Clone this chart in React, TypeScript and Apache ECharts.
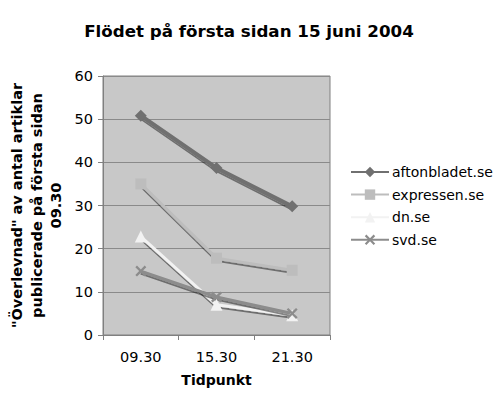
import React, { useEffect, useRef } from "react";
import * as echarts from "echarts";

const categories = ["09.30", "15.30", "21.30"];
const aftonbladet = [50.8, 38.7, 29.8];
const expressen = [35, 17.8, 15];
const dn = [22.8, 7, 4.6];
const svd = [14.8, 8.8, 5];
const seriesNames = ["aftonbladet.se", "expressen.se", "dn.se", "svd.se"];
const yTicks = [0, 10, 20, 30, 40, 50, 60];

const FONT = "DejaVu Sans";
const X_PATH = "path://M0,1.5L1.5,0L5,3.5L8.5,0L10,1.5L6.5,5L10,8.5L8.5,10L5,6.5L1.5,10L0,8.5L3.5,5Z";

export default function App() {
  const ref = useRef<HTMLDivElement>(null);
  useEffect(() => {
    const chart = echarts.init(ref.current!, null, { renderer: "svg" });
    const mk = (name: string, data: number[], color: string, symbol: string, size: number, width: number) => ({
      name,
      type: "line",
      data,
      symbol,
      symbolSize: size,
      itemStyle: { color },
      lineStyle: {
        color,
        width,
        shadowColor: "rgba(0,0,0,0.45)",
        shadowOffsetY: 2,
        shadowOffsetX: 0,
        shadowBlur: 0,
      },
      emphasis: { disabled: true },
    });
    chart.setOption({
      animation: false,
      backgroundColor: "#ffffff",
      title: {
        text: "Flödet på första sidan 15 juni 2004",
        left: 244,
        textAlign: "center",
        top: 17,
        textStyle: { fontFamily: FONT, fontSize: 16.7, fontWeight: "bold", color: "#000" },
      },
      grid: {
        left: 103,
        right: 163,
        top: 76,
        bottom: 65,
        show: true,
        backgroundColor: "#c8c8c8",
        borderColor: "#808080",
        borderWidth: 1,
      },
      legend: {
        orient: "vertical",
        left: 345,
        top: 160,
        itemWidth: 38,
        itemHeight: 13,
        itemGap: 8.6,
        data: seriesNames,
        textStyle: { fontFamily: FONT, fontSize: 14, color: "#000", padding: [0, 0, 0, -2] },
      },
      xAxis: {
        type: "category",
        data: categories,
        boundaryGap: true,
        name: "Tidpunkt",
        nameLocation: "middle",
        nameGap: 38,
        nameTextStyle: { fontFamily: FONT, fontSize: 14, fontWeight: "bold", color: "#000" },
        axisLine: { lineStyle: { color: "#808080" } },
        axisTick: { show: true, alignWithLabel: false, length: 5, lineStyle: { color: "#808080" } },
        axisLabel: { fontFamily: FONT, fontSize: 14.5, color: "#000", margin: 14 },
        splitLine: { show: false },
      },
      yAxis: {
        type: "value",
        min: 0,
        max: 60,
        interval: 10,
        name: '"Överlevnad" av antal artiklar\npublicerade på första sidan\n09.30',
        nameLocation: "middle",
        nameGap: 37,
        nameRotate: 90,
        nameTextStyle: { fontFamily: FONT, fontSize: 14.5, fontWeight: "bold", color: "#000", lineHeight: 19.5 },
        axisLine: { show: true, lineStyle: { color: "#808080" } },
        axisTick: { show: true, length: 5, lineStyle: { color: "#808080" } },
        axisLabel: {
          fontFamily: FONT,
          fontSize: 14.5,
          color: "#000",
          margin: 10,
          formatter: (v: number) => (yTicks.includes(v) ? String(v) : ""),
        },
        splitLine: { show: true, lineStyle: { color: "#8a8a8a", width: 1 } },
      },
      series: [
        mk(seriesNames[0], aftonbladet, "#707070", "diamond", 12, 4),
        mk(seriesNames[1], expressen, "#bdbdbd", "rect", 11, 3),
        mk(seriesNames[2], dn, "#f2f2f2", "triangle", 12, 3),
        mk(seriesNames[3], svd, "#8c8c8c", X_PATH, 11, 3),
      ],
    });
    return () => chart.dispose();
  }, []);
  return <div ref={ref} style={{ width: 493, height: 400, position: "absolute", left: 0, top: 0 }} />;
}
